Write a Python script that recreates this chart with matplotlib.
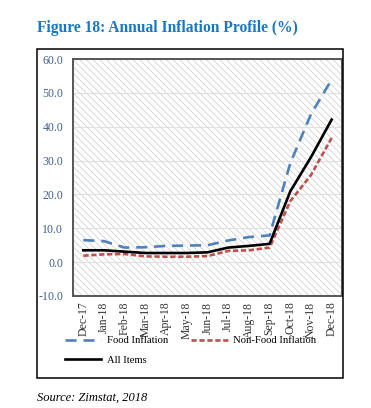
import numpy as np
import matplotlib
matplotlib.use('Agg')
import matplotlib.pyplot as plt
from matplotlib.patches import Rectangle

# annual inflation (%)
months = ['Dec-17', 'Jan-18', 'Feb-18', 'Mar-18', 'Apr-18', 'May-18', 'Jun-18',
          'Jul-18', 'Aug-18', 'Sep-18', 'Oct-18', 'Nov-18', 'Dec-18']
food = [6.5, 6.2, 4.3, 4.4, 4.8, 4.9, 5.0, 6.4, 7.4, 7.9, 29.2, 43.7, 53.9]
non_food = [1.9, 2.3, 2.4, 1.7, 1.6, 1.6, 1.8, 3.3, 3.5, 4.3, 18.0, 25.7, 36.7]
all_items = [3.5, 3.5, 3.1, 2.7, 2.7, 2.7, 2.9, 4.3, 4.8, 5.4, 20.9, 31.0, 42.1]
yticks = [-10, 0, 10, 20, 30, 40, 50, 60]

plt.rcParams['font.family'] = ['Liberation Serif', 'DejaVu Serif']
plt.rcParams['hatch.linewidth'] = 0.5
plt.rcParams['hatch.color'] = '#cacaca'

W, H = 371, 408
fig = plt.figure(figsize=(W/100, H/100), dpi=100)

def px(x0, y0, x1, y1):
    # pixel box (top-left origin) -> figure fraction rect
    return [x0/W, 1 - y1/H, (x1-x0)/W, (y1-y0)/H]

# title
fig.text(37/W, 1 - 28/H, 'Figure 18: Annual Inflation Profile (%)', fontsize=11.2,
         fontweight='bold', color='#1577c9', va='center', ha='left')

# outer chart frame
fig.patches.append(Rectangle((37/W, 1 - 378/H), (343-37)/W, (378-49)/H,
                             transform=fig.transFigure, fill=False,
                             edgecolor='black', linewidth=1.1))

ax = fig.add_axes(px(73, 59, 342, 296))
ax.patch.set_facecolor('white')
ax.add_patch(Rectangle((0, 0), 1, 1, transform=ax.transAxes, facecolor='white',
                       edgecolor='#cacaca', hatch='\\\\\\\\\\', linewidth=0, zorder=0))

x = np.arange(len(months))
ax.plot(x, food, color='#4f81bd', lw=1.9, dashes=(4.2, 2.6), label='Food Inflation', zorder=3)
ax.plot(x, non_food, color='#c0504d', lw=1.9, dashes=(2.0, 1.0), label='Non-Food Inflation', zorder=3)
ax.plot(x, all_items, color='black', lw=1.9, label='All Items', zorder=4)

ax.set_xlim(-0.5, len(months) - 0.5)
ax.set_ylim(-10, 60)
ax.set_yticks(yticks)
ax.set_yticklabels(['%.1f' % v for v in yticks], color='#44618f', fontsize=8.6)
ax.set_xticks(x)
ax.set_xticklabels(months, rotation=90, fontsize=8.5, color='#333333')
ax.tick_params(length=0)
ax.tick_params(axis='y', pad=7)
ax.tick_params(axis='x', pad=4)
ax.grid(axis='y', color='#e0e0e0', lw=0.8, zorder=1)
ax.set_axisbelow(True)
for s in ax.spines.values():
    s.set_color('#555555')
    s.set_linewidth(1.4)

# Food and Non-Food on first row, All Items below
handles, labels = ax.get_legend_handles_labels()
order = [0, 2, 1]
leg = ax.legend([handles[i] for i in order], [labels[i] for i in order], ncol=2,
                loc='upper left', bbox_to_anchor=(65/W, 1 - 336/H),
                bbox_transform=fig.transFigure, frameon=False, fontsize=7.7,
                handlelength=3.4, handletextpad=0.5, columnspacing=2.2,
                labelspacing=0.9, borderaxespad=0, borderpad=0)

fig.text(37/W, 1 - 398/H, 'Source: Zimstat, 2018', fontsize=9, style='italic',
         va='center', ha='left')

fig.savefig('out.png', dpi=100)
